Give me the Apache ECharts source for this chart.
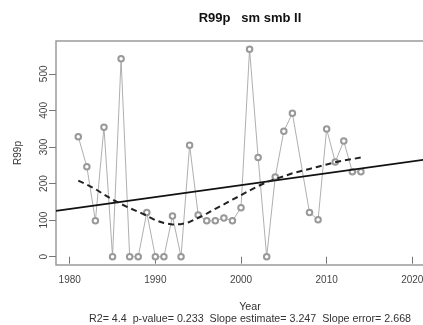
<!DOCTYPE html>
<html><head><meta charset="utf-8">
<script src="https://cdn.jsdelivr.net/npm/echarts@6/dist/echarts.min.js"></script>
<style>html,body{margin:0;padding:0;background:#fff}#c{width:423px;height:325px}</style>
</head><body><div id="c"></div>
<script>
const years = [1981,1982,1983,1984,1985,1986,1987,1988,1989,1990,1991,1992,1993,1994,1995,1996,1997,1998,1999,2000,2001,2002,2003,2004,2005,2006,2008,2009,2010,2011,2012,2013,2014];
const r99p = [328,246,98,354,0,541,0,0,121,0,0,111,0,305,114,98,98,106,98,134,567,271,0,218,343,392,121,101,349,259,316,232,232];
const smooth = [208,197,185,170,156,144,133,123,112,100,92,88,89,95,106,118,131,143,156,168,181,193,204,212,220,228,240,246,252,258,263,267,271];
const xTicks = [1980,1990,2000,2010,2020];
const yTicks = [0,100,200,300,400,500];
const xLimits = [1980,2020];
const slopeEstimate = 3.247;
const titleText = 'R99p   sm smb II';
const xName = 'Year';
const yName = 'R99p';
const statsText = 'R2= 4.4  p-value= 0.233  Slope estimate= 3.247  Slope error= 2.668';

// R-style 4% axis extension
const xr = xLimits[1]-xLimits[0];
const xMin = xLimits[0]-0.04*xr, xMax = xLimits[1]+0.04*xr;
const yLo = Math.min(...r99p), yHi = Math.max(...r99p);
const yMin = yLo-0.04*(yHi-yLo), yMax = yHi+0.04*(yHi-yLo);
// regression line through the means with the stated slope
const mx = years.reduce((a,b)=>a+b,0)/years.length;
const my = r99p.reduce((a,b)=>a+b,0)/r99p.length;
const fit = x => my + slopeEstimate*(x-mx);

const chart = echarts.init(document.getElementById('c'));
const FONT = 'Liberation Sans, Arial, sans-serif';
chart.setOption({
  animation:false,
  title:[
    {text:titleText,left:245,top:7,textAlign:'center',textStyle:{fontFamily:FONT,fontSize:13,fontWeight:'bold',color:'#111'}},
    {text:xName,left:245,top:297,textAlign:'center',textStyle:{fontFamily:FONT,fontSize:10.7,fontWeight:'normal',color:'#333'}},
    {text:statsText,left:245,top:309,textAlign:'center',textStyle:{fontFamily:FONT,fontSize:10.7,fontWeight:'normal',color:'#333'}}
  ],
  grid:{left:56,top:41,width:370,height:224,outerBoundsMode:'none',containLabel:false,show:true,borderColor:'#9a9a9a',borderWidth:1.5,backgroundColor:'transparent'},
  xAxis:{type:'value',min:xMin,max:xMax,
    axisLine:{show:false},splitLine:{show:false},
    axisTick:{show:true,length:7,lineStyle:{color:'#777'},customValues:xTicks},
    axisLabel:{margin:10,fontFamily:FONT,fontSize:10,color:'#444',customValues:xTicks,formatter:v=>String(v)}
  },
  yAxis:{type:'value',min:yMin,max:yMax,
    name:yName,nameLocation:'middle',nameRotate:90,nameGap:33,nameTextStyle:{fontFamily:FONT,fontSize:10,color:'#333'},
    axisLine:{show:false},splitLine:{show:false},
    axisTick:{show:true,length:7,lineStyle:{color:'#777'},customValues:yTicks},
    axisLabel:{margin:7,rotate:90,fontFamily:FONT,fontSize:10,color:'#444',customValues:yTicks,formatter:v=>String(v)}
  },
  series:[
    {type:'line',data:years.map((y,i)=>[y,r99p[i]]),symbol:'emptyCircle',symbolSize:5.5,showSymbol:true,
      lineStyle:{color:'#9a9a9a',width:0.8},itemStyle:{color:'#999',borderWidth:0.6},z:2},
    {type:'line',data:[[xMin,fit(xMin)],[xMax,fit(xMax)]],symbol:'none',lineStyle:{color:'#111',width:1.8},z:3},
    {type:'line',data:years.map((y,i)=>[y,smooth[i]]),symbol:'none',smooth:false,lineStyle:{color:'#222',width:2,type:[6,4]},z:4}
  ]
});
</script></body></html>
